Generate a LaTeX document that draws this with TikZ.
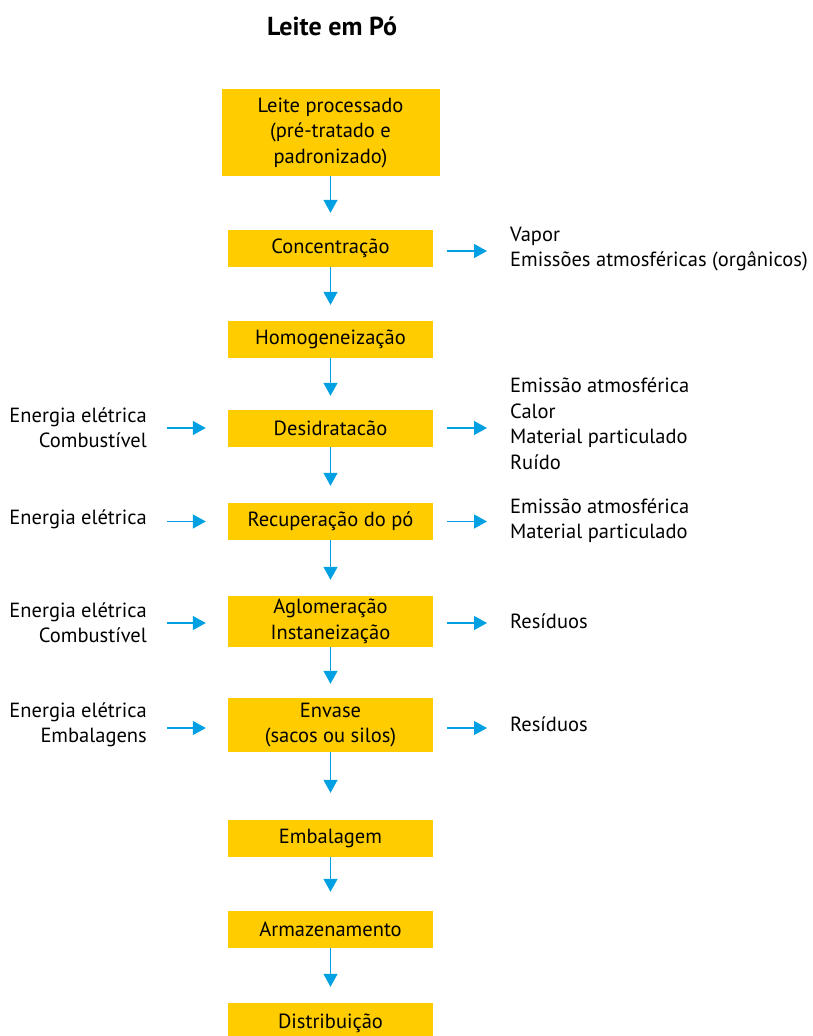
\documentclass[tikz,border=0pt]{standalone}
\usepackage{fontspec}
\setmainfont{PT Sans}
\usetikzlibrary{arrows.meta,calc}
\definecolor{boxyellow}{RGB}{255,204,0}
\definecolor{arrowblue}{RGB}{0,160,227}
\tikzset{
  stepbox/.style={fill=boxyellow, draw=none, minimum width=205pt, minimum height=37pt, align=center, inner sep=0pt, font=\fontsize{20.5}{25.5}\selectfont, text=black},
  lbl/.style={align=left, inner sep=0pt, font=\fontsize{20.5}{25.5}\selectfont, text=black},
  rlbl/.style={align=right, inner sep=0pt, font=\fontsize{20.5}{25.5}\selectfont, text=black},
  arr/.style={draw=arrowblue, line width=1.3pt, -{Triangle[width=14pt,length=13pt]}},
}
\begin{document}
\begin{tikzpicture}[x=1pt,y=-1pt]
\useasboundingbox (0,0) rectangle (813,1036);
\node[font=\fontsize{26}{30}\selectfont\bfseries] (title) at (332,26) {Leite em Pó};

\node[stepbox, minimum width=218pt, minimum height=87pt] (b1) at (330.5,132.5) {Leite processado\\(pré-tratado e\\padronizado)};
\node[stepbox] (b2) at (330.5,248.5) {Concentração};
\node[stepbox] (b3) at (330.5,339.5) {Homogeneização};
\node[stepbox] (b4) at (330.5,428.5) {Desidratacão};
\node[stepbox] (b5) at (330.5,521.5) {Recuperação do pó};
\node[stepbox, minimum height=51pt] (b6) at (330.5,621.5) {Aglomeração\\Instaneização};
\node[stepbox, minimum height=54pt] (b7) at (330.5,725) {Envase\\(sacos ou silos)};
\node[stepbox] (b8) at (330.5,838.5) {Embalagem};
\node[stepbox] (b9) at (330.5,929.5) {Armazenamento};
\node[stepbox, minimum height=40pt] (b10) at (330.5,1023) {Distribuição};

\foreach \a/\b/\g in {b1/b2/17, b2/b3/16, b3/b4/14, b4/b5/17, b5/b6/16, b6/b7/14, b7/b8/27, b8/b9/19, b9/b10/16}
  \draw[arr, shorten >=\g pt] (\a.south) -- (\b.north);

% right outputs
\node[lbl, anchor=west] (r2) at (510,249) {Vapor\\Emissões atmosféricas (orgânicos)};
\node[lbl, anchor=west] (r4) at (510,423.5) {Emissão atmosférica\\Calor\\Material particulado\\Ruído};
\node[lbl, anchor=west] (r5) at (510,520.5) {Emissão atmosférica\\Material particulado};
\node[lbl, anchor=west] (r6) at (510,621) {Resíduos};
\node[lbl, anchor=west] (r7) at (510,724) {Resíduos};

\coordinate (r2e) at (487,251);
\coordinate (r4e) at (487,428);
\coordinate (r5e) at (487,521.5);
\coordinate (r6e) at (487,623);
\coordinate (r7e) at (487,728);
\draw[arr] (b2.east |- r2e) ++(14,0) -- (r2e);
\draw[arr] (b4.east |- r4e) ++(14,0) -- (r4e);
\draw[arr] (b5.east |- r5e) ++(14,0) -- (r5e);
\draw[arr] (b6.east |- r6e) ++(14,0) -- (r6e);
\draw[arr] (b7.east |- r7e) ++(14,0) -- (r7e);

% left inputs
\node[rlbl, anchor=east] (l4) at (147,427.5) {Energia elétrica\\Combustível};
\node[rlbl, anchor=east] (l5) at (147,519) {Energia elétrica};
\node[rlbl, anchor=east] (l6) at (147,622.5) {Energia elétrica\\Combustível};
\node[rlbl, anchor=east] (l7) at (147,725) {Energia elétrica\\Embalagens};

\coordinate (l4s) at (167,428);
\coordinate (l5s) at (167,521.5);
\coordinate (l6s) at (167,623);
\coordinate (l7s) at (167,728);
\draw[arr] (l4s) -- ([xshift=-22pt]b4.west |- l4s);
\draw[arr] (l5s) -- ([xshift=-22pt]b5.west |- l5s);
\draw[arr] (l6s) -- ([xshift=-22pt]b6.west |- l6s);
\draw[arr] (l7s) -- ([xshift=-22pt]b7.west |- l7s);
\end{tikzpicture}
\end{document}
